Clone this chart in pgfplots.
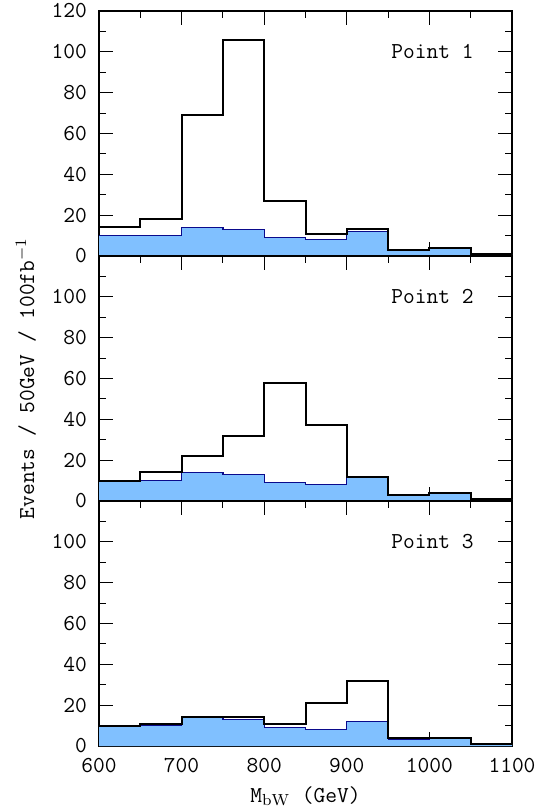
\documentclass[border=0pt]{standalone}
\usepackage{pgfplots}
\pgfplotsset{compat=1.18}
\usepgfplotslibrary{groupplots}

\definecolor{bgfill}{RGB}{128,192,255}
\definecolor{bgline}{RGB}{10,10,140}

\newcommand{\lblfont}{\fontsize{11.4}{13}\selectfont\ttfamily}

% background, same in all three panels
\pgfplotstableread{
x    y
600  10
650  10
700  14
750  13
800  9
850  8
900  12
950  3
1000 3.7
1050 0.8
1100 0.8
}\bkg

\begin{document}
\begin{tikzpicture}
\begin{groupplot}[
    group style={group size=1 by 3, vertical sep=0pt, xticklabels at=edge bottom},
    width=206.5pt, height=122.5pt, scale only axis,
    xmin=600, xmax=1100, ymin=0, ymax=120,
    xtick={600,700,...,1100}, minor xtick={650,750,...,1050},
    minor ytick={10,30,...,110},
    tick align=inside,
    major tick length=7pt, minor tick length=3.5pt,
    axis line style={line width=0.7pt},
    every tick/.style={black, line width=0.5pt},
    tick label style={font=\lblfont},
    /pgf/number format/assume math mode=true,
    /pgf/number format/1000 sep={},
    yticklabel style={xshift=-2.5pt},
    xticklabel style={yshift=-2.5pt},
    label style={font=\lblfont},
]
% ---- Point 1
\nextgroupplot[ytick={0,20,...,120}]
\addplot[const plot, fill=bgfill, draw=none] table {\bkg} \closedcycle;
\addplot[const plot, bgline, line width=0.6pt] table {\bkg};
\addplot[const plot, black, line width=1pt] coordinates {
  (600,14) (650,18) (700,69) (750,106) (800,27) (850,11) (900,13) (950,3) (1000,4) (1050,1) (1100,1)
};
\node[anchor=east, font=\lblfont] at (axis cs:1062,100) {Point 1};

% ---- Point 2
\nextgroupplot[ytick={0,20,...,100}, ylabel={Events / 50GeV / 100fb$^{-1}$}, ylabel shift=1pt]
\addplot[const plot, fill=bgfill, draw=none] table {\bkg} \closedcycle;
\addplot[const plot, bgline, line width=0.6pt] table {\bkg};
\addplot[const plot, black, line width=1pt] coordinates {
  (600,10) (650,14) (700,22) (750,32) (800,58) (850,37) (900,12) (950,3) (1000,4) (1050,1) (1100,1)
};
\node[anchor=east, font=\lblfont] at (axis cs:1062,100) {Point 2};

% ---- Point 3
\nextgroupplot[ytick={0,20,...,100}, xlabel={M$_{\mathrm{bW}}$ (GeV)}]
\addplot[const plot, fill=bgfill, draw=none] table {\bkg} \closedcycle;
\addplot[const plot, bgline, line width=0.6pt] table {\bkg};
\addplot[const plot, black, line width=1pt] coordinates {
  (600,10) (650,11) (700,14) (750,14) (800,11) (850,21) (900,32) (950,4) (1000,4) (1050,1) (1100,1)
};
\node[anchor=east, font=\lblfont] at (axis cs:1062,100) {Point 3};
\end{groupplot}
\pgfresetboundingbox
\path[use as bounding box] ([xshift=-49.5pt,yshift=-33pt]group c1r3.south west) rectangle ([xshift=14pt,yshift=5.5pt]group c1r1.north east);
\end{tikzpicture}
\end{document}
